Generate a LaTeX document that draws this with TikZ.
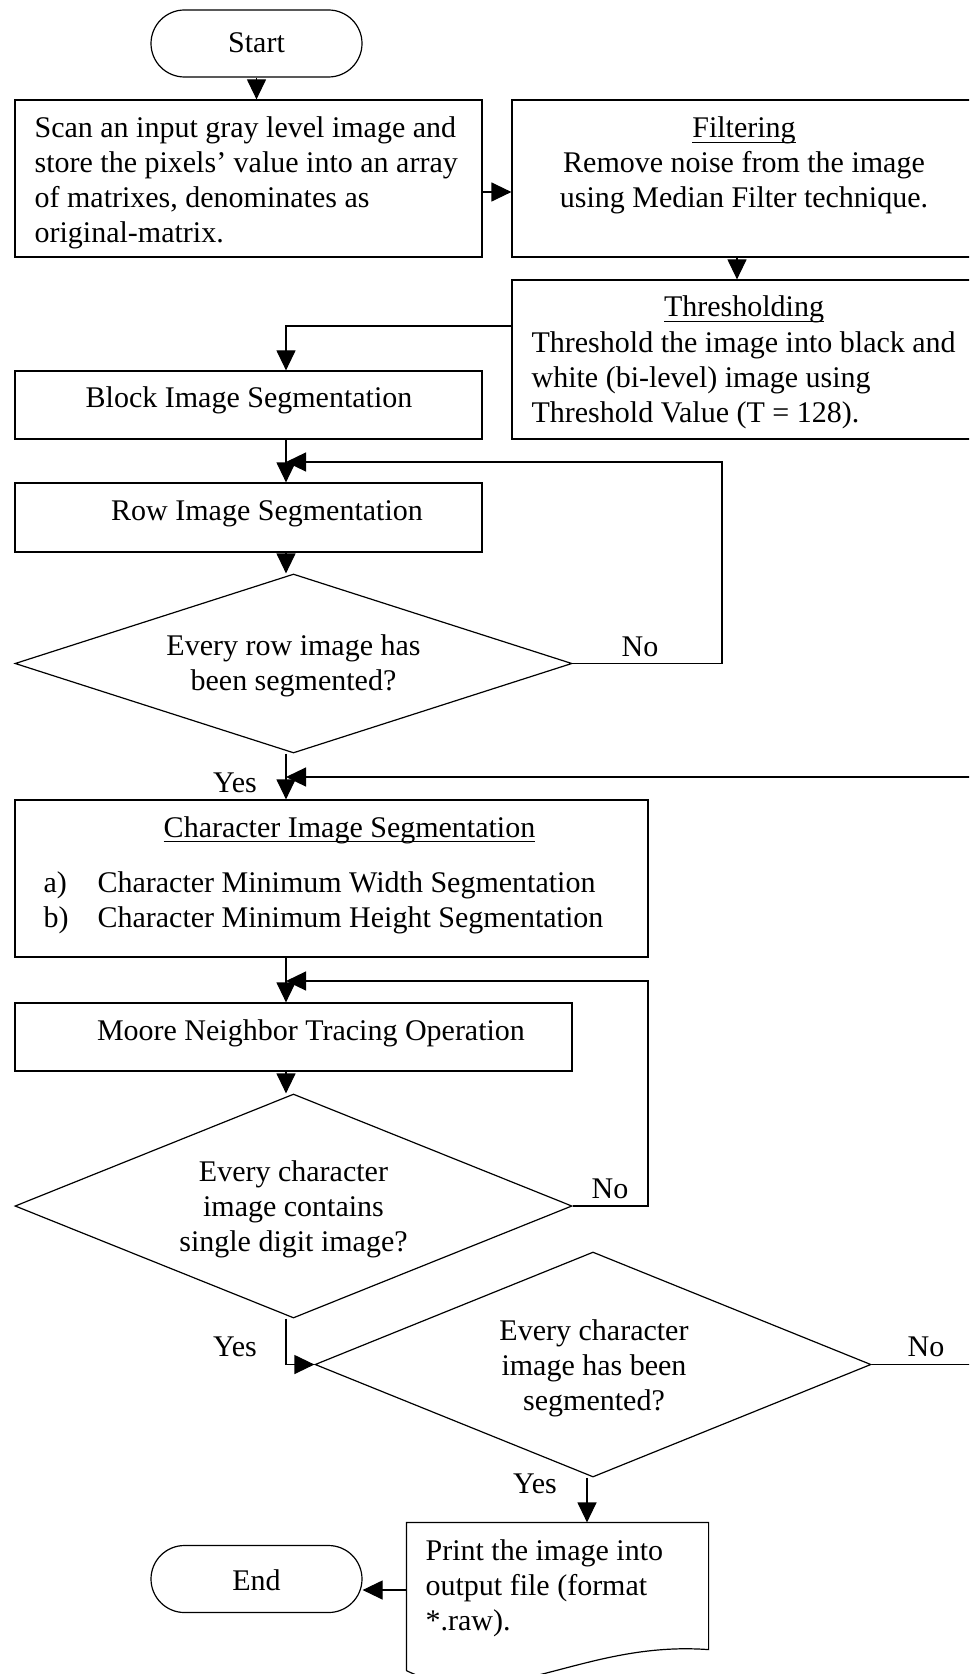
\documentclass[tikz,border=0pt]{standalone}
\usepackage{fontspec}
\setmainfont{Liberation Serif}
\usetikzlibrary{shapes.geometric,arrows.meta}
\newcommand\fnt{\fontsize{15}{17.5}\selectfont}
\newcommand\hs{\rule{0pt}{12pt}}
\newcommand\ulx[1]{\setbox0\hbox{#1}\rlap{\rule[-2.6pt]{\wd0}{0.5pt}}\box0}
\begin{document}
\begin{tikzpicture}[x=0.5pt,y=-0.5pt,
  line width=0.6pt,
  every node/.style={font=\fnt},
  box/.style={draw,rectangle,inner sep=0pt},
  term/.style={draw,rectangle,rounded corners=16.75pt,minimum width=105.5pt,minimum height=33.5pt,inner sep=0pt},
  dec/.style={draw,diamond,inner sep=0pt,shape aspect=2.5},
  txt/.style={inner sep=0pt},
  arr/.style={-{Triangle[length=10pt,width=9.5pt]}},
  lbl/.style={inner sep=0pt,anchor=base}]
\useasboundingbox (0,0) rectangle (969,1674);
\clip (0,0) rectangle (969,1674);
\coordinate (spine) at (286,0);
\coordinate (loop1) at (722,462);
\coordinate (loop2) at (1000,777);
\coordinate (loop3) at (648,981);

% shapes
\node[term] (start) at (256.5,43.5) {};
\node[box,minimum width=233.5pt,minimum height=78.5pt] (scan) at (248.5,178.5) {};
\node[box,minimum width=232pt,minimum height=78.5pt] (filt) at (744,178.5) {};
\node[box,minimum width=232pt,minimum height=79.5pt] (thr) at (744,359.5) {};
\node[box,minimum width=233.5pt,minimum height=34pt] (block) at (248.5,405) {};
\node[box,minimum width=233.5pt,minimum height=34.5pt] (row) at (248.5,517.5) {};
\node[dec,minimum width=278.5pt,minimum height=89.5pt] (d1) at (293.5,663.5) {};
\node[box,minimum width=316.5pt,minimum height=78.5pt] (char) at (331.5,878.5) {};
\node[box,minimum width=278.5pt,minimum height=34pt] (moore) at (293.5,1037) {};
\node[dec,minimum width=278.5pt,minimum height=112pt] (d2) at (293.5,1206) {};
\node[dec,minimum width=278pt,minimum height=112.5pt] (d3) at (593,1364.5) {};
\node[inner sep=0pt,minimum width=150.5pt,minimum height=73.5pt] (doc) at (557.5,1596.5) {};
\draw (doc.south west) -- (doc.north west) -- (doc.north east) -- ([yshift=10.5pt]doc.south east)
  .. controls (580,1640) and (500,1716) .. (doc.south west);
\node[term] (end) at (256.5,1579) {};

% texts
\node[txt,anchor=base] (tstart) at (256.5,53) {Start};
\node[txt,anchor=north west,align=left] (tscan) at (34,113) {\hs Scan an input gray level image and\\store the pixels’ value into an array\\of matrixes, denominates as\\original-matrix.};
\node[txt,anchor=north,align=center] (tfilt) at (744,113) {\hs\ulx{Filtering}\\Remove noise from the image\\using Median Filter technique.};
\node[txt,anchor=base] (tthr1) at (744,317) {\ulx{Thresholding}};
\node[txt,anchor=north west,align=left] (tthr2) at (531,328) {\hs Threshold the image into black and\\white (bi-level) image using\\Threshold Value (T = 128).};
\node[txt,anchor=base] (tblock) at (249,408) {Block Image Segmentation};
\node[txt,anchor=base] (trow) at (267,520) {Row Image Segmentation};
\node[txt,anchor=north,align=center] (td1) at (293.5,631) {\hs Every row image has\\been segmented?};
\node[txt,anchor=base] (tchar) at (349.5,837) {\ulx{Character Image Segmentation}};
\node[txt,anchor=north west,align=left] (titems) at (43,868) {\hs\makebox[27pt][l]{a)}Character Minimum Width Segmentation\\\makebox[27pt][l]{b)}Character Minimum Height Segmentation};
\node[txt,anchor=base] (tmoore) at (311,1040) {Moore Neighbor Tracing Operation};
\node[txt,anchor=north,align=center] (td2) at (293.5,1157) {\hs Every character\\image contains\\single digit image?};
\node[txt,anchor=north,align=center] (td3) at (594,1316) {\hs Every character\\image has been\\segmented?};
\node[txt,anchor=north west,align=left] (tdoc) at (425,1536) {\hs Print the image into\\output file (format\\{*}.raw).};
\node[txt,anchor=base] (tend) at (256.5,1590) {End};

% labels
\node[lbl] (no1) at (640,656) {No};
\node[lbl] (yes1) at (235,792) {Yes};
\node[lbl] (no2) at (610,1198) {No};
\node[lbl] (yes2) at (235,1356) {Yes};
\node[lbl] (no3) at (926,1356) {No};
\node[lbl] (yes3) at (535,1493) {Yes};

% connectors
\draw[arr] (start.south) -- (start.south |- scan.north);
\draw[arr] ([yshift=-6.75pt]scan.east) -- ([yshift=-6.75pt]filt.west);
\draw[arr] ([xshift=-3.5pt]filt.south) -- ([xshift=-3.5pt]thr.north);
\draw[arr] ([yshift=16.75pt]thr.west) -| (block.north -| spine);
\draw[arr] (block.south -| spine) -- (row.north -| spine);
\draw[arr] (row.south -| spine) -- (d1.north -| spine);
\draw[arr] (d1.south -| spine) -- (char.north -| spine);
\draw[arr] (d1.east) -| (loop1) -- (spine |- loop1);
\draw[arr] (char.south -| spine) -- (moore.north -| spine);
\draw[arr] (moore.south -| spine) -- (d2.north -| spine);
\draw[arr] (d2.east) -| (loop3) -- (spine |- loop3);
\draw[arr] (d2.south -| spine) |- (d3.west);
\draw[arr] (d3.east) -| (loop2) -- (spine |- loop2);
\draw[arr] ([xshift=-3pt]d3.south) -- ([xshift=-3pt]d3.south |- doc.north);
\draw[arr] ([yshift=3.25pt]doc.west) -- ([yshift=-5.5pt]end.east);
\end{tikzpicture}
\end{document}
